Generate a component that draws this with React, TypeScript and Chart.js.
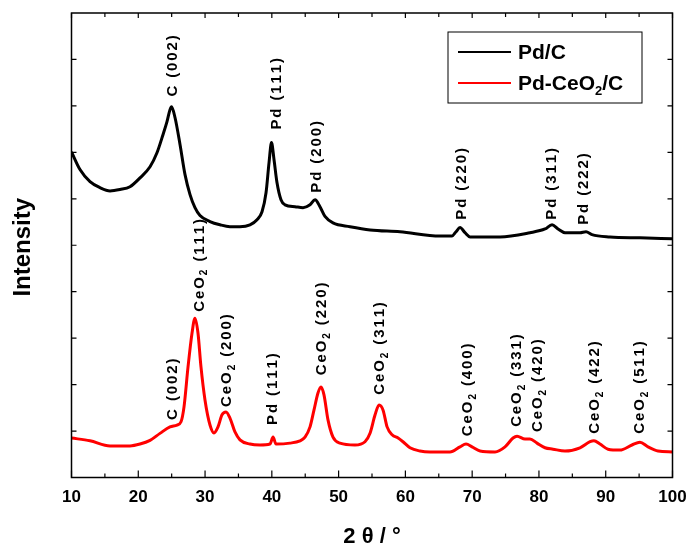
import React, { useEffect, useRef } from 'react';
import { Chart, registerables } from 'chart.js';

Chart.register(...registerables);

// ---- Data ----
const seriesNames = ['Pd/C', 'Pd-CeO2/C'];
const seriesColors = ['#000000', '#ff0000'];

const pdcTwoTheta = [
  10.0, 11.27, 12.77, 14.27, 15.77, 17.26, 18.76, 20.26, 21.76, 22.8, 23.7, 24.3, 24.75, 24.98, 25.5,
  26.25, 27.0, 27.75, 28.49, 29.24, 30.74, 32.24, 33.73, 35.23, 36.73, 37.78, 38.53, 39.13, 39.58,
  39.95, 40.33, 40.77, 41.37, 41.97, 43.47, 44.67, 45.72, 46.47, 47.21, 47.96, 49.16, 51.71, 54.72,
  59.19, 65.18, 66.98, 67.58, 68.18, 68.93, 69.68, 74.17, 78.66, 80.91, 81.96, 82.86, 83.9, 86.15,
  87.05, 87.94, 90.64, 95.13, 100.0,
];
const pdcIntensity = [
  7.01, 6.63, 6.37, 6.24, 6.17, 6.2, 6.26, 6.45, 6.69, 6.99, 7.38, 7.66, 7.92, 7.98, 7.75,
  7.17, 6.52, 6.09, 5.81, 5.64, 5.51, 5.44, 5.4, 5.4, 5.44, 5.55, 5.72, 6.13, 6.78,
  7.21, 6.84, 6.35, 5.98, 5.87, 5.83, 5.81, 5.87, 5.98, 5.83, 5.62, 5.48, 5.4, 5.33,
  5.29, 5.2, 5.2, 5.29, 5.38, 5.27, 5.18, 5.18, 5.27, 5.35, 5.44, 5.35, 5.27, 5.27,
  5.29, 5.23, 5.18, 5.16, 5.14,
];

const pdceoTwoTheta = [
  10.0, 12.77, 15.77, 18.76, 20.26, 21.76, 23.25, 24.75, 25.8, 26.4, 26.85, 27.45, 28.05, 28.49,
  28.94, 29.39, 29.99, 30.74, 31.34, 31.94, 32.54, 33.14, 33.73, 34.48, 35.23, 36.73, 38.23, 39.73,
  40.18, 40.63, 42.72, 44.22, 44.97, 45.72, 46.31, 46.91, 47.36, 47.81, 48.41, 49.16, 50.21, 52.45,
  53.95, 54.72, 55.46, 56.06, 56.66, 57.26, 58.01, 58.91, 59.64, 60.69, 62.19, 63.69, 66.68, 68.18,
  69.08, 69.98, 71.18, 73.42, 74.92, 76.12, 76.72, 77.91, 78.66, 79.71, 80.91, 82.11, 83.9, 86.15,
  87.65, 88.24, 89.14, 90.34, 92.13, 93.93, 95.13, 96.33, 97.83, 100.0,
];
const pdceoIntensity = [
  0.85, 0.79, 0.68, 0.68, 0.72, 0.8, 0.95, 1.09, 1.13, 1.2, 1.52, 2.38, 3.11, 3.43,
  3.11, 2.38, 1.67, 1.13, 0.96, 1.09, 1.35, 1.41, 1.28, 0.98, 0.81, 0.72, 0.7, 0.72,
  0.87, 0.72, 0.74, 0.79, 0.87, 1.09, 1.45, 1.82, 1.95, 1.78, 1.24, 0.87, 0.74, 0.7,
  0.77, 0.96, 1.35, 1.56, 1.45, 1.09, 0.92, 0.85, 0.77, 0.64, 0.57, 0.55, 0.55, 0.66,
  0.72, 0.66, 0.57, 0.55, 0.66, 0.85, 0.89, 0.83, 0.83, 0.74, 0.64, 0.61, 0.57, 0.64,
  0.77, 0.79, 0.72, 0.61, 0.59, 0.7, 0.76, 0.66, 0.57, 0.55,
];

const xTickValues = [10, 20, 30, 40, 50, 60, 70, 80, 90, 100];
const xMinorTickValues = [15, 25, 35, 45, 55, 65, 75, 85, 95];
const yTickValues = [1, 2, 3, 4, 5, 6, 7, 8, 9];

// peak labels: [main text, subscript, rest, 2θ, intensity at text start]
const pdcPeakLabels: [string, string, string, number, number][] = [
  ['C (002)', '', '', 25.2, 8.2],
  ['Pd (111)', '', '', 40.8, 7.49],
  ['Pd (200)', '', '', 46.7, 6.13],
  ['Pd (220)', '', '', 68.5, 5.55],
  ['Pd (311)', '', '', 82.0, 5.55],
  ['Pd (222)', '', '', 86.8, 5.44],
];
const pdceoPeakLabels: [string, string, string, number, number][] = [
  ['C (002)', '', '', 25.2, 1.24],
  ['CeO', '2', ' (111)', 29.2, 3.57],
  ['CeO', '2', ' (200)', 33.3, 1.52],
  ['Pd (111)', '', '', 40.2, 1.13],
  ['CeO', '2', ' (220)', 47.5, 2.2],
  ['CeO', '2', ' (311)', 56.2, 1.78],
  ['CeO', '2', ' (400)', 69.4, 0.89],
  ['CeO', '2', ' (331)', 76.7, 1.09],
  ['CeO', '2', ' (420)', 79.9, 0.98],
  ['CeO', '2', ' (422)', 88.4, 0.94],
  ['CeO', '2', ' (511)', 95.1, 0.94],
];

const FONT = '"Liberation Sans", Arial, Helvetica, sans-serif';

function drawSpaced(ctx: CanvasRenderingContext2D, text: string, x: number, y: number, spacing: number) {
  let cx = x;
  for (const ch of text) {
    ctx.fillText(ch, cx, y);
    cx += ctx.measureText(ch).width + spacing;
  }
  return cx;
}

const decorPlugin = {
  id: 'decor',
  afterDatasetsDraw(chart: any) {
    const { ctx, chartArea: a, scales } = chart;
    const xs = scales.x;
    const ys = scales.y;
    ctx.save();
    ctx.strokeStyle = '#000';
    ctx.fillStyle = '#000';
    ctx.lineWidth = 1.5;
    ctx.strokeRect(a.left, a.top, a.right - a.left, a.bottom - a.top);

    ctx.lineWidth = 1.2;
    ctx.beginPath();
    for (const v of xTickValues) {
      const px = xs.getPixelForValue(v);
      ctx.moveTo(px, a.bottom);
      ctx.lineTo(px, a.bottom - 7);
      ctx.moveTo(px, a.top);
      ctx.lineTo(px, a.top + 5);
    }
    for (const v of xMinorTickValues) {
      const px = xs.getPixelForValue(v);
      ctx.moveTo(px, a.bottom);
      ctx.lineTo(px, a.bottom - 4);
      ctx.moveTo(px, a.top);
      ctx.lineTo(px, a.top + 4);
    }
    for (const v of yTickValues) {
      const py = ys.getPixelForValue(v);
      ctx.moveTo(a.left, py);
      ctx.lineTo(a.left + 5, py);
      ctx.moveTo(a.right, py);
      ctx.lineTo(a.right - 5, py);
    }
    ctx.stroke();

    // peak labels
    const drawLabel = (lab: [string, string, string, number, number]) => {
      const [main, sub, rest, xv, yv] = lab;
      const px = xs.getPixelForValue(xv);
      const py = ys.getPixelForValue(yv);
      ctx.save();
      ctx.translate(px, py);
      ctx.rotate(-Math.PI / 2);
      ctx.textBaseline = 'middle';
      ctx.textAlign = 'left';
      ctx.font = `bold 15px ${FONT}`;
      let cx = drawSpaced(ctx, main, 0, 0, 1.9);
      if (sub) {
        ctx.font = `bold 10px ${FONT}`;
        cx = drawSpaced(ctx, sub, cx, 5, 1.9);
        ctx.font = `bold 15px ${FONT}`;
      }
      if (rest) drawSpaced(ctx, rest, cx, 0, 1.9);
      ctx.restore();
    };
    pdcPeakLabels.forEach(drawLabel);
    pdceoPeakLabels.forEach(drawLabel);

    // legend
    const lx = a.right - 224.5;
    const ly = a.top + 19;
    ctx.lineWidth = 1;
    ctx.strokeStyle = '#000';
    ctx.strokeRect(lx, ly, 194, 71);
    chart.data.datasets.forEach((ds: any, i: number) => {
      const rowY = ly + 20 + i * 31;
      ctx.strokeStyle = ds.borderColor;
      ctx.lineWidth = 2;
      ctx.beginPath();
      ctx.moveTo(lx + 10, rowY);
      ctx.lineTo(lx + 63, rowY);
      ctx.stroke();
      ctx.fillStyle = '#000';
      ctx.textBaseline = 'middle';
      ctx.textAlign = 'left';
      ctx.font = `bold 21px ${FONT}`;
      const name: string = ds.label;
      const m = name.match(/^(.*O)2(\/C)$/);
      if (m) {
        ctx.fillText(m[1], lx + 70, rowY + 1);
        const w = ctx.measureText(m[1]).width;
        ctx.font = `bold 13px ${FONT}`;
        ctx.fillText('2', lx + 70 + w, rowY + 8);
        const w2 = ctx.measureText('2').width;
        ctx.font = `bold 21px ${FONT}`;
        ctx.fillText(m[2], lx + 70 + w + w2, rowY + 1);
      } else {
        ctx.fillText(name, lx + 70, rowY + 1);
      }
    });

    // axis titles
    ctx.fillStyle = '#000';
    ctx.font = `bold 22px ${FONT}`;
    ctx.textAlign = 'center';
    ctx.textBaseline = 'middle';
    ctx.fillText('2 θ / °', (a.left + a.right) / 2, 537);
    ctx.save();
    ctx.translate(23, (a.top + a.bottom) / 2 + 2);
    ctx.rotate(-Math.PI / 2);
    ctx.font = `bold 24px ${FONT}`;
    ctx.fillText('Intensity', 0, 0);
    ctx.restore();

    ctx.restore();
  },
};

export default function App() {
  const ref = useRef<HTMLCanvasElement | null>(null);
  useEffect(() => {
    if (!ref.current) return;
    const chart = new Chart(ref.current, {
      type: 'line',
      data: {
        datasets: [
          {
            label: seriesNames[0],
            data: pdcTwoTheta.map((x, i) => ({ x, y: pdcIntensity[i] })),
            borderColor: seriesColors[0],
            borderWidth: 3,
            pointRadius: 0,
            cubicInterpolationMode: 'monotone',
          },
          {
            label: seriesNames[1],
            data: pdceoTwoTheta.map((x, i) => ({ x, y: pdceoIntensity[i] })),
            borderColor: seriesColors[1],
            borderWidth: 3,
            pointRadius: 0,
            cubicInterpolationMode: 'monotone',
          },
        ],
      },
      options: {
        responsive: false,
        animation: false,
        devicePixelRatio: 1,
        layout: { padding: { top: 13, right: 16.5, left: 0, bottom: 0 } },
        plugins: { legend: { display: false }, tooltip: { enabled: false } },
        scales: {
          x: {
            type: 'linear',
            min: 10,
            max: 100,
            grid: { display: false, drawTicks: false },
            border: { display: false },
            ticks: {
              color: '#000',
              font: { family: FONT, size: 17, weight: 'bold' },
              padding: 10,
              maxRotation: 0,
            },
            afterBuildTicks: (s: any) => {
              s.ticks = xTickValues.map((v) => ({ value: v }));
            },
            afterFit: (s: any) => {
              s.height = 73.5;
              s.paddingLeft = 0;
              s.paddingRight = 0;
            },
          },
          y: {
            type: 'linear',
            min: 0,
            max: 10,
            grid: { display: false, drawTicks: false },
            border: { display: false },
            ticks: { display: false },
            afterFit: (s: any) => {
              s.width = 71.5;
              s.paddingTop = 0;
              s.paddingBottom = 0;
            },
          },
        },
      } as any,
      plugins: [decorPlugin],
    });
    return () => chart.destroy();
  }, []);
  return (
    <div style={{ position: 'fixed', left: 0, top: 0, width: 689, height: 551, background: '#fff' }}>
      <canvas ref={ref} width={689} height={551} style={{ width: 689, height: 551, display: 'block' }} />
    </div>
  );
}
